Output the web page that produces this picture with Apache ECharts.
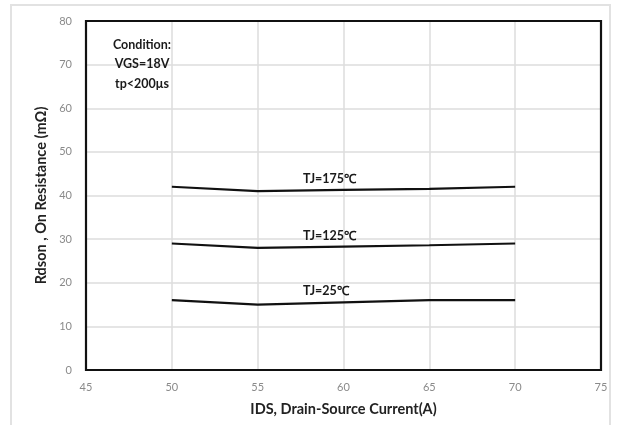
<!DOCTYPE html>
<html>
<head>
<meta charset="utf-8">
<script src="https://cdn.jsdelivr.net/npm/echarts@6/dist/echarts.min.js"></script>
<style>
  html, body { margin: 0; padding: 0; background: #fff; }
  #chart { width: 618px; height: 425px; }
</style>
</head>
<body>
<div id="chart"></div>
<script>
// Drain-source current (A)
const currents = [50, 55, 60, 65, 70];
// On resistance (mΩ) for each junction temperature
const rdson175 = [42, 41, 41.3, 41.5, 42];
const rdson125 = [29, 28, 28.3, 28.6, 29];
const rdson25 = [16, 15, 15.5, 16, 16];
const curveLabels = ['TJ=175℃', 'TJ=125℃', 'TJ=25℃'];
const conditionLines = ['Condition:', 'VGS=18V', 'tp<200μs'];

const FONT = 'Lato, "Open Sans", sans-serif';

function curve(name, values) {
  return {
    name: name,
    type: 'line',
    data: currents.map((x, i) => {
      const item = { value: [x, values[i]] };
      if (i === 2) {
        // curve name written just above the line near IDS = 60 A
        item.label = {
          show: true,
          position: [-40, -17],
          formatter: name,
          color: '#1a1a1a',
          fontFamily: FONT,
          fontWeight: 'bold',
          fontSize: 12.5
        };
      }
      return item;
    }),
    symbol: 'circle',
    symbolSize: 1,
    showSymbol: true,
    itemStyle: { color: 'rgba(0,0,0,0)', borderWidth: 0 },
    labelLayout: { hideOverlap: false },
    lineStyle: { color: '#111', width: 2.2 },
    silent: true,
    animation: false
  };
}

const chart = echarts.init(document.getElementById('chart'), null, { renderer: 'canvas' });
chart.setOption({
  backgroundColor: '#fff',
  animation: false,
  grid: { left: 86, right: 17, top: 21, bottom: 55, containLabel: false },
  xAxis: {
    type: 'value',
    min: 45, max: 75, interval: 5,
    name: 'IDS, Drain-Source Current(A)',
    nameLocation: 'middle',
    nameGap: 32,
    nameTextStyle: { fontFamily: FONT, fontWeight: 'bold', fontSize: 14.5, color: '#222' },
    axisLine: { show: false },
    axisTick: { show: false },
    axisLabel: { color: '#8a8a8a', fontFamily: FONT, fontSize: 11, margin: 12 },
    splitLine: { show: true, lineStyle: { color: '#dcdcdc', width: 1.5 } }
  },
  yAxis: {
    type: 'value',
    min: 0, max: 80, interval: 10,
    name: 'Rdson , On Resistance (mΩ)',
    nameLocation: 'middle',
    nameGap: 30,
    nameRotate: 90,
    nameTextStyle: { fontFamily: FONT, fontWeight: 'bold', fontSize: 14.5, color: '#222' },
    axisLine: { show: false },
    axisTick: { show: false },
    axisLabel: { color: '#8a8a8a', fontFamily: FONT, fontSize: 11, margin: 14 },
    splitLine: { show: true, lineStyle: { color: '#dcdcdc', width: 1.5 } }
  },
  series: [
    curve(curveLabels[0], rdson175),
    curve(curveLabels[1], rdson125),
    curve(curveLabels[2], rdson25)
  ],
  graphic: [
    {
      type: 'rect',
      shape: { x: 11, y: 5, width: 599, height: 430 },
      style: { fill: 'none', stroke: '#e2e2e2', lineWidth: 2 },
      silent: true, z: -1
    },
    {
      type: 'rect',
      shape: { x: 86, y: 21, width: 515, height: 349 },
      style: { fill: 'none', stroke: '#111', lineWidth: 2.2 },
      silent: true, z: 10
    },
    {
      type: 'text',
      style: {
        x: 142, y: 35,
        text: conditionLines.join('\n'),
        align: 'center',
        lineHeight: 19.5,
        fill: '#1a1a1a',
        font: 'bold 12.5px ' + FONT
      },
      silent: true, z: 11
    }
  ]
});
</script>
</body>
</html>
